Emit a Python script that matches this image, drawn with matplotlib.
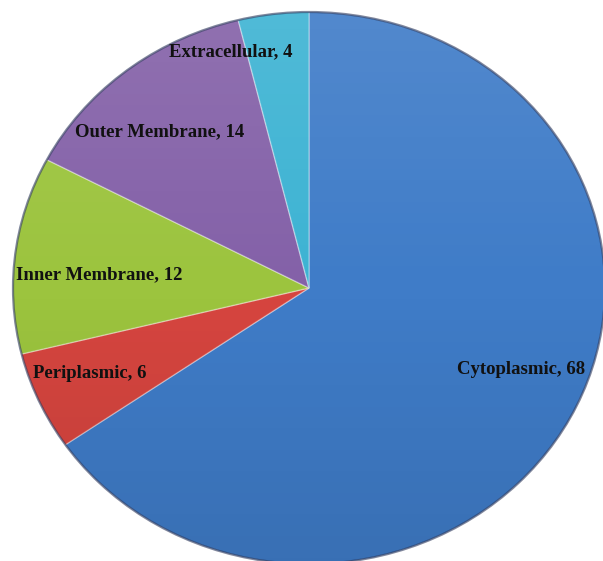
import numpy as np
import matplotlib
matplotlib.use("Agg")
import matplotlib.pyplot as plt
from matplotlib.patches import Ellipse

categories = ["Cytoplasmic", "Periplasmic", "Inner Membrane", "Outer Membrane", "Extracellular"]
values = [68, 6, 12, 14, 4]
colors = ["#3f7cc8", "#d6453f", "#9cc43e", "#8461a8", "#3db3d3"]
# label positions in pixel coordinates of the reference (layout only)
label_px = [(521, 370), (90, 373), (99, 275), (160, 132), (231, 52)]

W, H = 603, 561
cx, cy, rx, ry = 309, 288, 296, 276

fig = plt.figure(figsize=(W / 100, H / 100), dpi=100)
ax = fig.add_axes([0, 0, 1, 1])
wedges, _ = ax.pie(values, colors=colors, startangle=90, counterclock=False,
                   wedgeprops=dict(edgecolor=(1, 1, 1, 0.35), linewidth=1.0))
ax.set_aspect("auto")

# soft gradient shading (lighter on top, darker at the bottom)
grad = np.linspace(0, 1, 256).reshape(-1, 1)
rgba = np.zeros((256, 1, 4))
rgba[..., :3] = np.where(grad[..., None] < 0.5, 1.0, 0.0)
rgba[..., 3] = np.abs(grad - 0.5)[..., 0:1] * 0.2
im = ax.imshow(rgba, extent=[-1, 1, -1, 1], origin="upper", aspect="auto",
               zorder=3, interpolation="bilinear")
clip = Ellipse((0, 0), 2, 2, transform=ax.transData, facecolor="none", edgecolor="none")
ax.add_patch(clip)
im.set_clip_path(clip)
ax.set_aspect("auto")
ax.set_xlim(-cx / rx, (W - cx) / rx)
ax.set_ylim(-(H - cy) / ry, cy / ry)

# outer edge shadow
ax.add_patch(Ellipse((0, 0), 2, 2, facecolor="none", edgecolor=(0.1, 0.15, 0.3, 0.55),
                     linewidth=1.6, zorder=4))

for cat, val, (px, py) in zip(categories, values, label_px):
    ax.text(px / W, 1 - py / H, f"{cat}, {val}", transform=ax.transAxes,
            ha="center", va="center", fontsize=13.5, fontweight="bold",
            family="Liberation Serif", color="#111111", zorder=5)

ax.axis("off")
fig.savefig("out.png", dpi=100)
